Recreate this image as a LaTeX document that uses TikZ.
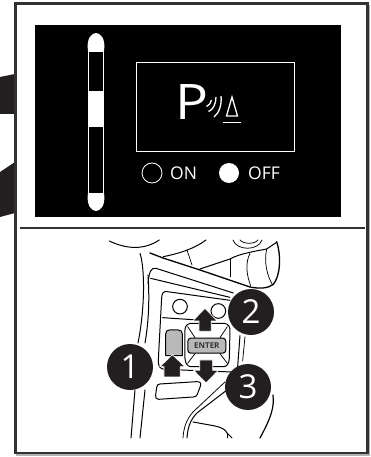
\documentclass[tikz,border=0pt]{standalone}
\usepackage{fontspec}
\setmainfont{Open Sans}
\usetikzlibrary{positioning}
\definecolor{FrameDark}{RGB}{51,49,50}
\definecolor{StripeDark}{RGB}{35,31,32}

\begin{document}
\begin{tikzpicture}[
  x=1pt, y=-1pt,
  badge/.style={
    circle, fill=StripeDark, text=white, minimum size=46pt, inner sep=0pt, font=\fontsize{33}{33}\selectfont
  },
  paneltext/.style={text=white, inner sep=0pt, font=\fontsize{17.5}{18}\selectfont},
  sketch/.style={draw=black, line width=1pt, line cap=round, line join=round},
  thin sketch/.style={draw=black, line width=0.75pt, line cap=round, line join=round},
  pushdir/.style={fill=StripeDark, draw=white, line width=0.7pt, line join=miter},
  glyph/.style={draw=white, line width=1.3pt}
]
\useasboundingbox (0,0) rectangle (371,457);

% --- Stripes behind the frame
\fill[StripeDark] (0,77) -- (15,74) -- (15,114) -- (0,114) -- cycle;
\fill[StripeDark] (0,172) -- (15,162) -- (15,213) -- (0,217) -- cycle;

% --- Outer frame
\draw[gray!60, line width=1.5pt] (17,5.5) rectangle (369,455);
\draw[FrameDark, fill=white, line width=2.4pt] (15.5,3.5) rectangle (367.5,453);
\draw[FrameDark, line width=2.4pt] (20,228) -- (365,228);

% --- Display panel
\fill[black] (35,25) rectangle (341,217);
\draw[white, line width=0.8pt] (88.5,51) rectangle (103.5,193);
\fill[white] (88,51) .. controls (86,38) and (92,33) .. (96,33) .. controls (100,33) and (106,38) .. (104,51) -- cycle;
\fill[white] (88,193) .. controls (86,206) and (92,211) .. (96,211) .. controls (100,211) and (106,206) .. (104,193) -- cycle;
\fill[white] (88.5,91) rectangle (103.5,127);

\draw[white, line width=0.9pt] (136.5,62.5) rectangle (294.5,151.5);
\node[text=white, inner sep=0pt, xscale=1.12, font=\fontsize{49}{49}\selectfont] (parkp) at (192.5,102) {P};
\draw[glyph] (206.5,106.5) .. controls (209,105.5) and (211,103) .. (211.5,100);
\draw[glyph] (208.5,111.5) .. controls (213,110) and (216,104) .. (216,97);
\draw[glyph] (214,117) .. controls (219,113) and (222,105) .. (221,96);
\draw[glyph, line join=miter] (232,97) -- (226.5,116) -- (237.5,116) -- cycle;
\draw[white, line width=1.6pt] (223,122.5) -- (241,122.5);

\draw[white, line width=0.8pt] (152,173) circle (10);
\node[paneltext, anchor=west] (onlabel) at (170,173) {ON};
\fill[white] (229,173) circle (10);
\node[paneltext, anchor=west] (offlabel) at (248,173) {OFF};

% --- Steering column sketch, in the pixel grid of the lower half
\begin{scope}[shift={(80,225)}, x=0.3333pt, y=-0.3333pt]
  \draw[sketch] (88,48) .. controls (130,68) and (185,80) .. (238,45);
  \draw[sketch] (250,95) .. controls (300,85) and (345,70) .. (378,45);
  \draw[sketch, line width=1.3pt] (210,84) -- (249,99) -- (360,135) -- (510,186) .. controls (540,192) and (565,190) .. (580,178) .. controls (600,155) and (605,95) .. (590,50);
  \draw[thin sketch] (321,75) -- (336,120);
  \draw[sketch] (360,132) -- (450,102) .. controls (480,85) and (530,78) .. (560,72) -- (590,52);
  \draw[thin sketch] (450,102) -- (450,155);
  \draw[thin sketch] (510,85) .. controls (495,115) and (500,150) .. (512,182);
  \draw[thin sketch] (560,72) .. controls (552,110) and (560,150) .. (578,180);
  \draw[thin sketch] (459,45) .. controls (470,78) and (535,78) .. (546,45);
  \draw[thin sketch] (480,45) .. controls (490,58) and (525,58) .. (534,45);

  % --- Column edges
  \draw[sketch] (180,85) .. controls (195,130) and (195,250) .. (174,354);
  \draw[sketch] (204,150) .. controls (208,210) and (208,280) .. (195,354);
  \draw[sketch] (165,495) -- (153,639);
  \draw[sketch] (195,495) -- (180,639);

  % --- Switch panel
  \draw[sketch] (204,175) .. controls (208,140) and (212,128) .. (228,130) -- (460,204);
  \draw[sketch] (212,160) -- (450,217);
  \draw[sketch] (450,226) -- (262,200) .. controls (250,198) and (246,205) .. (245,218) -- (235,405) .. controls (234,425) and (240,432) .. (255,433) -- (455,441) .. controls (468,441) and (472,435) .. (473,425) -- (480,332);
  \draw[thin sketch] (495,335) -- (488,408);
  \draw[sketch] (248,278) -- (352,285);
  \draw[sketch] (300,245) circle (22);
  \draw[sketch] (415,258) circle (22);
  \draw[sketch, fill=gray!55] (268,315) -- (295,315) .. controls (304,315) and (307,320) .. (307,328) -- (307,392) -- (257,392) -- (257,328) .. controls (257,320) and (260,315) .. (268,315) -- cycle;

  % --- Enter pad
  \draw[sketch] (332,295) -- (433,295) .. controls (445,297) and (450,305) .. (450,315) -- (448,400) .. controls (447,415) and (442,424) .. (432,425) -- (332,425) .. controls (322,424) and (316,415) .. (315,400) -- (315,315) .. controls (315,305) and (320,297) .. (332,295) -- cycle;
  \draw[thin sketch] (323,305) -- (345,338);
  \draw[thin sketch] (442,305) -- (420,338);
  \draw[thin sketch] (323,415) -- (345,386);
  \draw[thin sketch] (442,415) -- (420,386);
  \node[draw=black, line width=1pt, fill=gray!55, rounded corners=3pt, minimum width=38pt, minimum height=15pt, inner sep=0pt, text=black!80, font=\fontsize{8}{8}\selectfont\bfseries] (enterkey) at (380.5,362) {ENTER};

  % --- Lower switch and lever
  \draw[sketch] (240,477) -- (350,470) .. controls (362,470) and (364,475) .. (361,484) -- (352,508) .. controls (350,514) and (346,515) .. (340,516) -- (236,523) .. controls (228,523) and (226,518) .. (227,510) -- (230,487) .. controls (231,480) and (234,478) .. (240,477) -- cycle;
  \draw[thin sketch] (435,471) -- (339,561) .. controls (318,585) and (311,610) .. (309,639);
  \draw[sketch] (441,495) -- (351,564) .. controls (330,585) and (323,610) .. (321,639);
  \draw[sketch] (339,591) -- (405,603) .. controls (425,607) and (438,615) .. (441,624) -- (456,639);
  \draw[thin sketch] (441,624) -- (441,639);
  \draw[sketch, line width=1.2pt] (579,510) .. controls (583,545) and (575,575) .. (540,639);

  % --- Push directions
  \fill[pushdir] (277,389) -- (315,425) -- (301,425) -- (301,456) -- (252,456) -- (252,425) -- (240,425) -- cycle;
  \fill[pushdir] (375,250) -- (412,288) -- (394,288) -- (394,319) -- (357,319) -- (357,288) -- (338,288) -- cycle;
  \fill[pushdir] (378,474) -- (415,436) -- (398,436) -- (398,405) -- (359,405) -- (359,436) -- (341,436) -- cycle;
\end{scope}

% --- Numbered badges
\node[badge] (stepone)   at (130,367) {1};
\node[badge] (steptwo)   at (251,312) {2};
\node[badge] (stepthree) at (248,387) {3};

\end{tikzpicture}
\end{document}
